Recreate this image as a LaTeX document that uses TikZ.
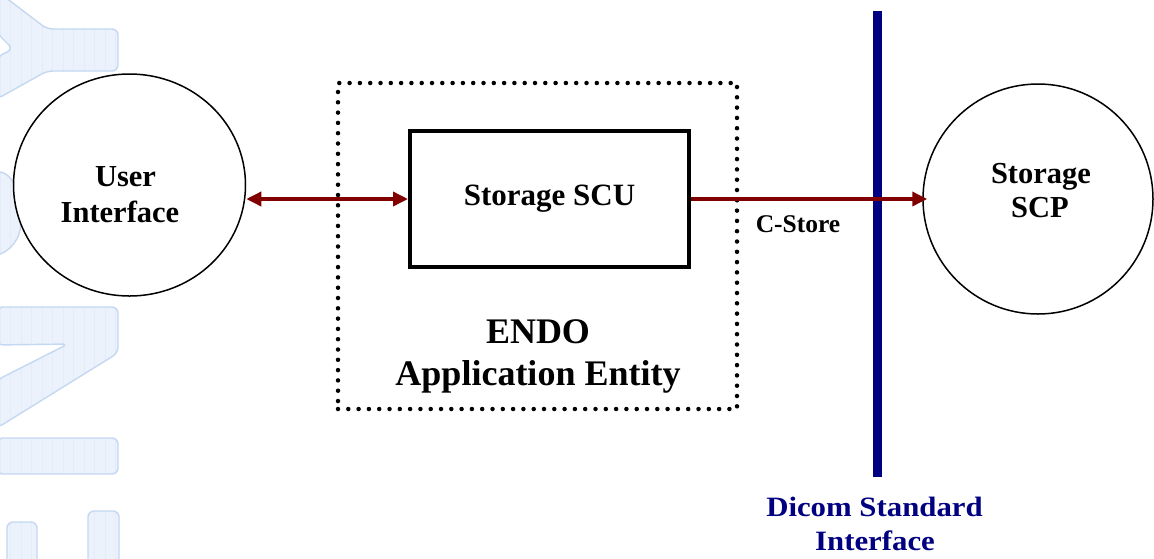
\documentclass[tikz,border=0pt]{standalone}
\usepackage{fontspec}
\setmainfont{Liberation Serif}
\newfontfamily\widefont[FakeStretch=1.1]{Liberation Serif}
\usetikzlibrary{arrows.meta,shapes.geometric}
\definecolor{wmfill}{RGB}{236,242,251}
\definecolor{wmgridc}{RGB}{229,236,249}
\definecolor{wmedge}{RGB}{196,216,242}
\definecolor{darkred}{RGB}{128,0,0}
\definecolor{navyc}{RGB}{0,0,128}
\tikzset{
  wmline/.style={draw=wmedge, line width=1.4pt, rounded corners=6pt},
  wmgrid/.style={draw=wmgridc, line width=0.3pt},
  roundnode/.style={draw, line width=1.5pt, fill=white, inner sep=0pt},
  scubox/.style={draw, line width=4pt, inner sep=0pt, font=\bfseries\fontsize{31}{31}\selectfont},
  dotbox/.style={draw, line width=4.5pt, line cap=round, dash pattern=on 0pt off 10.3pt, inner sep=0pt},
  redarrow/.style={draw=darkred, line width=3.5pt, arrows={-{Triangle[length=15pt,width=14pt]}}},
  redboth/.style={draw=darkred, line width=3.5pt, arrows={{Triangle[length=15pt,width=14pt]}-{Triangle[length=15pt,width=14pt]}}},
  navyline/.style={draw=navyc, line width=9pt},
  circtext/.style={anchor=base, inner sep=0pt, font=\bfseries\fontsize{30.5}{30.5}\selectfont},
  bigtext/.style={anchor=base, inner sep=0pt, font=\bfseries\fontsize{36}{36}\selectfont},
  smalltext/.style={anchor=base, inner sep=0pt, font=\bfseries\fontsize{25.5}{25.5}\selectfont},
  dicomtext/.style={anchor=base, inner sep=0pt, text=navyc, font=\widefont\bfseries\fontsize{28}{28}\selectfont},
}
\def\wmA{(-3,-3) -- (5,-3) -- (47,29) -- (118,29) -- (118,71) -- (47,71) -- (-3,99) -- (-3,57) -- (13,49) -- (-3,33) -- cycle}
\def\wmB{(-3,170) -- (10,176) .. controls (24,205) and (28,240) .. (-3,256) -- cycle}
\def\wmC{(-3,307) -- (118,307) -- (118,353) -- (-3,428) -- (-3,380) -- (68,344) -- (-3,345) -- cycle}
\def\wmD{(-3,438) -- (118,438) -- (118,474) -- (-3,474) -- cycle}
\def\wmE{(7,565) -- (7,522) -- (37,522) -- (37,565)}
\def\wmF{(88,565) -- (88,511) -- (119,511) -- (119,565)}
\begin{document}
\begin{tikzpicture}[x=1pt,y=-1pt]
\useasboundingbox (0,0) rectangle (1154,558);
\fill[white] (0,0) rectangle (1154,558);
% watermark
\foreach \p in {\wmA,\wmB,\wmC,\wmD,\wmE,\wmF}{
  \begin{scope}
    \clip[rounded corners=6pt] \p;
    \fill[wmfill] (-5,-5) rectangle (130,565);
    \draw[wmgrid] (-5,-5) grid[step=10.5] (130,565);
  \end{scope}
  \path[wmline] \p;
}
% nodes
\node[roundnode, ellipse, minimum width=232pt, minimum height=222pt] (ui) at (129.5,185) {};
\node[roundnode, circle, minimum size=230pt] (scp) at (1038,199) {};
\node[dotbox, minimum width=399pt, minimum height=326pt] (ae) at (537.5,246) {};
\node[scubox, minimum width=279pt, minimum height=136pt] (scu) at (549.5,199) {Storage SCU};
\node[circtext] (ut1) at (125.5,186) {User};
\node[circtext] (ut2) at (120,222) {Interface};
\node[circtext] (st1) at (1041,183) {Storage};
\node[circtext] (st2) at (1040,217) {SCP};
\node[bigtext] (ae1) at (538,343) {ENDO};
\node[bigtext] (ae2) at (538,385) {Application Entity};
\node[smalltext] (cs) at (798,232) {C-Store};
\node[dicomtext] (dc1) at (874.5,516) {Dicom Standard};
\node[dicomtext] (dc2) at (875,550) {Interface};
% dicom boundary
\coordinate (dtop) at (877.5,11);
\coordinate (dbot) at (877.5,477);
\draw[navyline] (dtop) -- (dbot);
% connectors
\draw[redboth] (ui.east |- scu.west) -- (scu.west);
\draw[redarrow, shorten >=-5pt] (scu.east) -- (scp.west);
\end{tikzpicture}
\end{document}
